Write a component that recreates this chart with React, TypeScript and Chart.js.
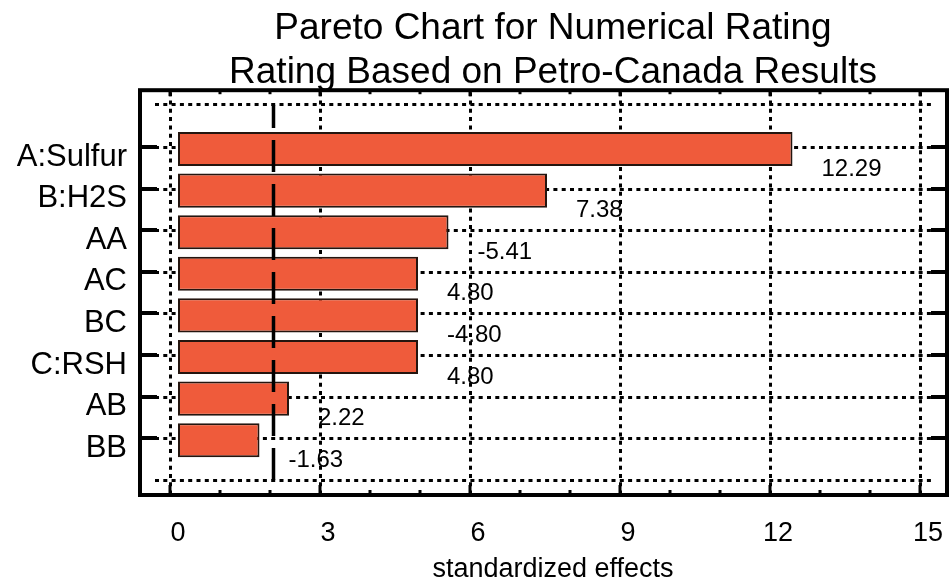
import React, { useEffect, useRef } from "react";
import { Chart, registerables } from "chart.js";

Chart.register(...registerables);

const FONT = "'Liberation Sans', Arial, Helvetica, sans-serif";

const titleLines = ["Pareto Chart for Numerical Rating", "Rating Based on Petro-Canada Results"];
const categories = ["A:Sulfur", "B:H2S", "AA", "AC", "BC", "C:RSH", "AB", "BB"];
const effects = [12.29, 7.38, -5.41, 4.8, -4.8, 4.8, 2.22, -1.63];
const criticalValue = 1.9;
const xTicks = { min: 0, max: 15, step: 3, minorStep: 1 };
const xTitle = "standardized effects";

const barColor = "#EF5B3B";
const barBorder = "#24150f";

const decorPlugin = {
  id: "decor",
  beforeDatasetsDraw(chart: any) {
    const { ctx, chartArea: ca, scales } = chart;
    const xs = scales.x;
    const ys = scales.y;
    const fL = ca.left - 38, fR = ca.right + 19, fT = ca.top - 38, fB = ca.bottom + 34;
    ctx.save();
    ctx.strokeStyle = "#000";
    ctx.lineWidth = 3;
    ctx.setLineDash([4, 4.3]);
    // vertical dotted grid
    for (let v = xTicks.min; v <= xTicks.max; v += xTicks.step) {
      const x = Math.round(xs.getPixelForValue(v) - 8) + 0.5;
      ctx.beginPath();
      ctx.moveTo(x, fT + 2);
      ctx.lineTo(x, fB - 2);
      ctx.stroke();
    }
    // horizontal dotted grid
    const hy: number[] = [ca.top - 24, ca.bottom + 19];
    categories.forEach((_, i) => hy.push(ys.getPixelForValue(i) - 2));
    hy.forEach((y) => {
      const yy = Math.round(y) + 0.5;
      ctx.beginPath();
      ctx.moveTo(ca.left - 23, yy);
      ctx.lineTo(ca.right + 7, yy);
      ctx.stroke();
    });
    ctx.setLineDash([]);
    // frame
    ctx.lineWidth = 4;
    ctx.strokeRect(fL, fT, fR - fL, fB - fT);
    // left / right ticks
    categories.forEach((_, i) => {
      const y = Math.round(ys.getPixelForValue(i) - 2);
      ctx.fillStyle = "#000";
      ctx.fillRect(fL, y - 2, 17, 4);
      ctx.fillRect(fR - 16, y - 2, 16, 4);
    });
    // top / bottom ticks
    for (let v = xTicks.min; v <= xTicks.max; v += xTicks.minorStep) {
      const x = Math.round(xs.getPixelForValue(v) - 8);
      const major = (v - xTicks.min) % xTicks.step === 0;
      ctx.fillRect(x - 1.5, fB - (major ? 10 : 5), 3, major ? 10 : 5);
      ctx.fillRect(x - 1.5, fT, 3, major ? 6 : 4);
    }
    ctx.restore();
  },
  afterDatasetsDraw(chart: any) {
    const { ctx, chartArea: ca, scales } = chart;
    const xs = scales.x;
    const ys = scales.y;
    ctx.save();
    // critical value dashed line
    const cx = Math.round(xs.getPixelForValue(criticalValue)) + 0.5;
    ctx.strokeStyle = "#000";
    ctx.lineWidth = 3.5;
    ctx.setLineDash([32, 12]);
    ctx.beginPath();
    ctx.moveTo(cx, ca.bottom + 19);
    ctx.lineTo(cx, ca.top - 23);
    ctx.stroke();
    ctx.setLineDash([]);
    // value labels
    ctx.fillStyle = "#000";
    ctx.font = `24px ${FONT}`;
    ctx.textAlign = "left";
    ctx.textBaseline = "middle";
    effects.forEach((v, i) => {
      const x = xs.getPixelForValue(Math.abs(v)) + 29;
      const y = ys.getPixelForValue(i) + 20;
      ctx.fillText(v.toFixed(2), x, y);
    });
    ctx.restore();
  },
  afterDraw(chart: any) {
    const { ctx, chartArea: ca } = chart;
    ctx.save();
    ctx.fillStyle = "#000";
    ctx.font = `37px ${FONT}`;
    ctx.textAlign = "center";
    ctx.textBaseline = "alphabetic";
    const cx = (ca.left + ca.right) / 2;
    ctx.fillText(titleLines[0], cx, 38.5);
    ctx.fillText(titleLines[1], cx, 83);
    ctx.restore();
  },
};

export default function App() {
  const ref = useRef<HTMLCanvasElement>(null);
  useEffect(() => {
    if (!ref.current) return;
    const chart = new Chart(ref.current, {
      type: "bar",
      data: {
        labels: categories,
        datasets: [
          {
            data: effects.map((v) => Math.abs(v)),
            backgroundColor: barColor,
            borderColor: barBorder,
            borderWidth: 2,
            borderSkipped: false,
            barPercentage: 0.82,
            categoryPercentage: 1,
          },
        ],
      },
      options: {
        indexAxis: "y",
        animation: false,
        responsive: false,
        maintainAspectRatio: false,
        layout: { padding: { top: 128.2, right: 21, bottom: 0, left: 0 } },
        plugins: { legend: { display: false }, tooltip: { enabled: false }, title: { display: false } },
        scales: {
          x: {
            type: "linear",
            position: "bottom",
            min: xTicks.min,
            max: xTicks.max,
            ticks: { stepSize: xTicks.step, font: { size: 27, family: FONT }, color: "#000", padding: 56, maxRotation: 0 },
            grid: { display: false, drawTicks: false },
            border: { display: false },
            title: { display: true, text: xTitle, font: { size: 27, family: FONT }, color: "#000", padding: { top: 0, bottom: 0 } },
            afterFit: (s: any) => {
              s.height = 125;
              s.paddingLeft = 0;
              s.paddingRight = 0;
            },
          },
          y: {
            type: "category",
            position: "left",
            ticks: { font: { size: 31, family: FONT }, color: "#000", padding: 51, labelOffset: 8, autoSkip: false },
            grid: { display: false, drawTicks: false },
            border: { display: false },
            afterFit: (s: any) => { s.width = 178; },
          },
        },
      } as any,
      plugins: [decorPlugin],
    });
    return () => chart.destroy();
  }, []);
  return (
    <div style={{ position: "absolute", left: 0, top: 0, width: 949, height: 586, background: "#fff" }}>
      <canvas ref={ref} width={949} height={586} style={{ width: 949, height: 586, display: "block" }} />
    </div>
  );
}
